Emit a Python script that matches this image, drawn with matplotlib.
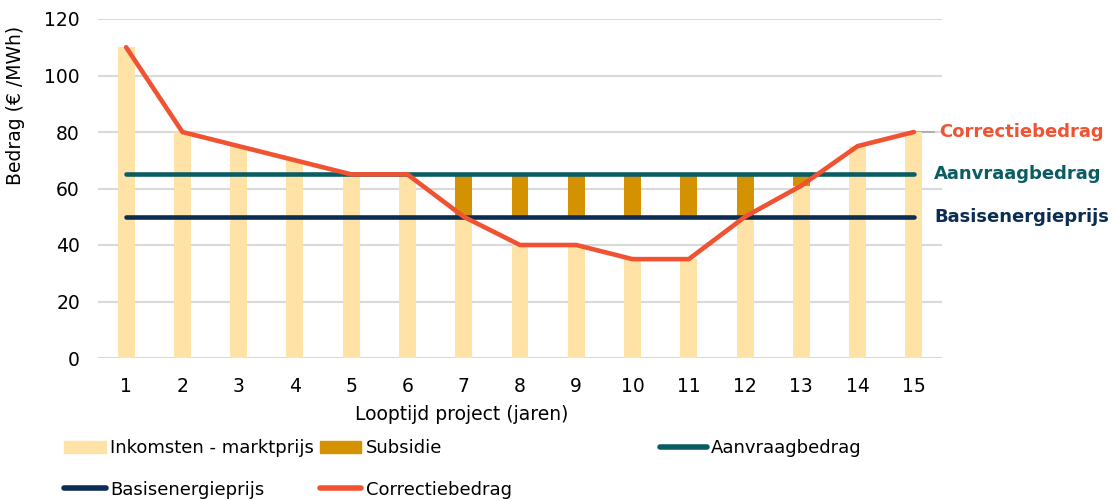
import matplotlib.pyplot as plt
from matplotlib.lines import Line2D
from matplotlib.patches import Patch

plt.rcParams['font.family'] = ['DejaVu Sans']

# ---- data ----
jaren = list(range(1, 16))
marktprijs = [110, 80, 75, 70, 65, 65, 50, 40, 40, 35, 35, 50, 61, 75, 80]
subsidie = [0, 0, 0, 0, 0, 0, 15, 15, 15, 15, 15, 15, 4, 0, 0]
aanvraagbedrag = [65] * 15
basisenergieprijs = [50] * 15
correctiebedrag = [110, 80, 75, 70, 65, 65, 50, 40, 40, 35, 35, 50, 61, 75, 80]

c_bar = '#FFE2A6'
c_sub = '#D49100'
c_aan = '#0B5D63'
c_bas = '#0B2D52'
c_cor = '#F05232'

fig = plt.figure(figsize=(11.16, 5.01), dpi=100)
ax = fig.add_axes([98 / 1116, 1 - 358 / 501, 844 / 1116, 339 / 501])

# subsidy sits on top of the higher of market price and base price
sub_bottom = [max(m, b) for m, b in zip(marktprijs, basisenergieprijs)]

ax.bar(jaren, marktprijs, width=0.3, color=c_bar, zorder=2)
ax.bar(jaren, subsidie, width=0.3, bottom=sub_bottom, color=c_sub, zorder=2)
ax.plot(jaren, aanvraagbedrag, color=c_aan, lw=3.3, solid_capstyle='round', zorder=3)
ax.plot(jaren, basisenergieprijs, color=c_bas, lw=3.3, solid_capstyle='round', zorder=3)
ax.plot(jaren, correctiebedrag, color=c_cor, lw=3.3, solid_capstyle='round',
        solid_joinstyle='round', zorder=4)

ax.set_xlim(0.5, 15.5)
ax.set_ylim(0, 120)
ax.set_xticks(jaren)
ax.set_yticks(range(0, 121, 20))
ax.grid(axis='y', color='#D9D9D9', lw=1.5, zorder=0)
ax.set_axisbelow(True)
for s in ax.spines.values():
    s.set_visible(False)
ax.tick_params(length=0, labelsize=13.5, colors='black')
ax.tick_params(axis='x', pad=14)
ax.tick_params(axis='y', pad=13)

ax.set_ylabel('Bedrag (€ /MWh)', fontsize=13.5)
ax.yaxis.set_label_coords(-0.086, 0.745)
ax.set_xlabel('Looptijd project (jaren)', fontsize=13.5)
ax.xaxis.set_label_coords(0.431, -0.138)

# end labels
ax.plot([jaren[-1], 15.35], [correctiebedrag[-1]] * 2, color='#A6A6A6', lw=1.2, zorder=1)
ax.text(15.45, correctiebedrag[-1], 'Correctiebedrag', color=c_cor, fontsize=13,
        fontweight='bold', va='center', clip_on=False)
ax.text(15.36, aanvraagbedrag[-1], 'Aanvraagbedrag', color=c_aan, fontsize=13,
        fontweight='bold', va='center', clip_on=False)
ax.text(15.36, basisenergieprijs[-1], 'Basisenergieprijs', color=c_bas, fontsize=13,
        fontweight='bold', va='center', clip_on=False)

# legend
h_ink = Patch(color=c_bar, label='Inkomsten - marktprijs')
h_sub = Patch(color=c_sub, label='Subsidie')
h_aan = Line2D([], [], color=c_aan, lw=4, solid_capstyle='round', label='Aanvraagbedrag')
h_bas = Line2D([], [], color=c_bas, lw=4, solid_capstyle='round', label='Basisenergieprijs')
h_cor = Line2D([], [], color=c_cor, lw=4, solid_capstyle='round', label='Correctiebedrag')

leg1 = fig.legend(handles=[h_ink, h_bas, h_sub, h_cor], ncol=2, frameon=False,
                  loc='upper left', bbox_to_anchor=(48 / 1116, 1 - 423 / 501),
                  fontsize=13, handlelength=2.3, handletextpad=0.25,
                  columnspacing=0.3, labelspacing=1.3)
leg2 = fig.legend(handles=[h_aan], frameon=False, loc='upper left',
                  bbox_to_anchor=(644 / 1116, 1 - 423 / 501),
                  fontsize=13, handlelength=2.6, handletextpad=0.2)

fig.savefig('out.png', dpi=100)
